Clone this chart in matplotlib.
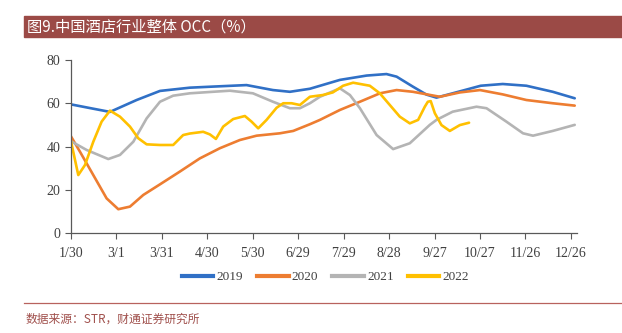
import matplotlib.pyplot as plt
from matplotlib.patches import Rectangle
from matplotlib.lines import Line2D

plt.rcParams['font.family'] = ['Liberation Serif', 'Noto Sans CJK SC']

# days since 1/30
day_2019 = [0, 14.7, 25.9, 43.5, 58.9, 78.6, 93.8, 116, 133.4, 144.6, 157.8, 177.6,
            195.2, 208.3, 215, 225.7, 234.7, 241.3, 252, 270.5, 285, 300.6, 318, 332.5]
occ_2019 = [59.5, 57.5, 56, 61.5, 65.7, 67.2, 67.7, 68.4, 66.1, 65.3, 66.7, 70.8,
            72.8, 73.5, 72.3, 67.7, 64, 62.6, 64.6, 68.1, 68.9, 68.1, 65.3, 62.3]

day_2020 = [0, 6.1, 14.9, 23.7, 31.4, 39.1, 47.9, 58.9, 72, 85.2, 98.4, 111.6, 122.6,
            138, 146.8, 157.8, 164.4, 177.6, 190.8, 204, 215, 225.7, 243.5, 256.7,
            270, 285, 300.6, 318, 332.5]
occ_2020 = [44.9, 37.6, 26.8, 16, 11, 12.2, 17.6, 22.5, 28.4, 34.5, 39.2, 43, 45,
            46.1, 47.2, 50.3, 52.3, 56.9, 60.7, 64.6, 66.1, 65.3, 63, 65,
            66.1, 64.1, 61.5, 60, 58.9]

day_2021 = [0, 10.5, 24.8, 32.5, 41.3, 50.1, 58.9, 67.6, 78.6, 93.8, 105, 120.2, 133.4,
            144.6, 151.2, 157.8, 164.4, 177.6, 184.2, 190.8, 201.8, 212.7, 223.7,
            236.9, 241.3, 252, 267.7, 274.3, 287.4, 298.4, 305, 318, 332.5]
occ_2021 = [42.5, 38.4, 34.2, 36.1, 42.2, 53, 60.7, 63.5, 64.6, 65.3, 65.8, 64.6, 60.7,
            57.7, 57.7, 60, 63, 66.9, 63.8, 57.7, 45.3, 38.8, 41.5,
            50, 52.3, 56.1, 58.4, 57.7, 51.5, 46.1, 45, 47.2, 50]

day_2022 = [0, 5, 9.4, 14.9, 20.4, 25.9, 32.5, 39.1, 44.6, 50.1, 58.9, 67.6, 74.2, 78.6,
            87.4, 91.8, 95.8, 100.6, 107.2, 114.9, 119.3, 123.7, 129.2, 135.8, 140.2,
            145.7, 151.2, 157.8, 166.3, 172.9, 179.7, 186.3, 197.3, 203.9, 210.5,
            217.1, 223.7, 229.2, 233.6, 235.6, 237.5, 240.2, 244.6, 250.1, 256.7, 262.8]
occ_2022 = [43, 26.8, 31.4, 42.2, 51.5, 56.6, 53.8, 49.2, 43.8, 41, 40.7, 40.7, 45.3, 46,
            46.8, 45.6, 43.5, 49.2, 52.7, 54.1, 51.5, 48.4, 52.3, 57.9, 60,
            60, 59.2, 63, 63.8, 65, 68.1, 69.5, 68.1, 64.6, 59.2,
            53.8, 50.7, 52.3, 58.4, 60.7, 61, 55.4, 49.9, 47.2, 49.9, 51]

tick_days = [0, 30, 60, 90, 120, 150, 180, 210, 240, 270, 300, 330]
tick_labels = ['1/30', '3/1', '3/31', '4/30', '5/30', '6/29', '7/29', '8/28',
               '9/27', '10/27', '11/26', '12/26']

series = [('2019', day_2019, occ_2019, '#3070C6'),
          ('2020', day_2020, occ_2020, '#ED7D31'),
          ('2021', day_2021, occ_2021, '#B4B4B4'),
          ('2022', day_2022, occ_2022, '#FFC000')]

fig = plt.figure(figsize=(6.22, 3.33), dpi=100)
ax = fig.add_axes([70.7 / 622, 100 / 333, (577 - 70.7) / 622, 173 / 333])

for name, d, v, c in series:
    ax.plot(d, v, color=c, lw=1.9, label=name, solid_joinstyle='round',
            solid_capstyle='round')

ax.set_xlim(0, 334)
ax.set_ylim(0, 80)
ax.set_yticks([0, 20, 40, 60, 80])
ax.set_xticks(tick_days)
ax.set_xticklabels(tick_labels)
for s in ['top', 'right']:
    ax.spines[s].set_visible(False)
for s in ['left', 'bottom']:
    ax.spines[s].set_color('#595959')
    ax.spines[s].set_linewidth(0.9)
ax.tick_params(colors='#595959', labelcolor='#404040', labelsize=10, length=4, width=0.8)
ax.tick_params(axis='x', pad=6)

handles = [Line2D([], [], color=c, lw=3) for _, _, _, c in series]
fig.legend(handles, [s[0] for s in series], loc='center', bbox_to_anchor=(0.523, 0.168),
           ncol=4, frameon=False, fontsize=9.5, handlelength=2.4, handletextpad=0.25,
           columnspacing=1.05, labelcolor='#404040')

# title bar
fig.patches.append(Rectangle((24 / 622, 1 - 37 / 333), 1 - 24 / 622, 21 / 333,
                             transform=fig.transFigure, color='#9B4A46', zorder=0))
fig.text(27 / 622, 1 - 27 / 333, '图9.中国酒店行业整体 OCC（%）', color='white', fontsize=11,
         va='center', ha='left', family=['Noto Sans CJK SC', 'DejaVu Sans'])

# source line
fig.add_artist(Line2D([24 / 622, 1], [1 - 303 / 333] * 2, transform=fig.transFigure,
                      color='#B8625E', lw=0.9))
fig.text(26 / 622, 1 - 319 / 333, '数据来源：STR，财通证券研究所', color='#A0504C',
         fontsize=8.5, va='center', ha='left', family=['Noto Sans CJK SC', 'DejaVu Sans'])

fig.savefig('out.png', dpi=100)
